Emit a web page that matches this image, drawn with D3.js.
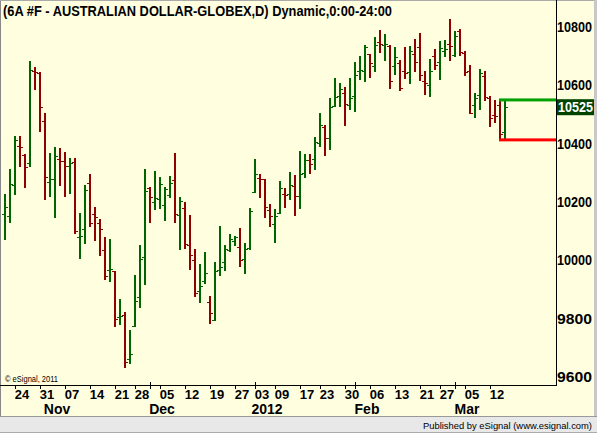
<!DOCTYPE html>
<html>
<head>
<meta charset="utf-8">
<script src="https://cdn.jsdelivr.net/npm/d3@7"></script>
<style>
  html, body { margin: 0; padding: 0; background: #fff; }
  svg { display: block; }
</style>
</head>
<body>
<div id="chart"></div>
<script>
const title = "(6A #F - AUSTRALIAN DOLLAR-GLOBEX,D) Dynamic,0:00-24:00";

// trading days: weekdays from firstDay to lastDay, minus exchange holidays
const firstDay = "2011-10-18";
const lastDay = "2012-03-13";
const holidays = ["2011-11-24", "2011-12-26", "2012-01-02", "2012-01-16", "2012-02-20"];

const opens = [
  10158, 10151, 10257, 10392, 10361, 10333, 10649, 10643, 10478, 10268,
  10278, 10346, 10341, 10324, 10336, 10079, 10106, 10265, 10159, 10128,
  10035, 9967, 9962, 9806, 9813, 9661, 9776, 9873, 10010, 10248,
  10199, 10211, 10190, 10223, 10274, 10154, 10178, 10052, 10001, 9894,
  9928, 9856, 9794, 9967, 9993, 10034, 10066, 10045, 10004, 10043,
  10233, 10281, 10278, 10172, 10124, 10161, 10227, 10227, 10255, 10220,
  10298, 10343, 10346, 10401, 10457, 10418, 10528, 10562, 10574, 10532,
  10562, 10648, 10648, 10706, 10665, 10748, 10738, 10735, 10665, 10676,
  10648, 10645, 10706, 10730, 10614, 10600, 10700, 10679, 10718, 10741,
  10703, 10785, 10710, 10648, 10532, 10566, 10631, 10556, 10497, 10532, 10439
];
const highs = [
  10227, 10313, 10426, 10426, 10365, 10683, 10663, 10646, 10505, 10368,
  10389, 10386, 10372, 10352, 10352, 10163, 10259, 10297, 10183, 10142,
  10080, 10073, 9963, 9867, 9824, 9761, 9950, 10053, 10313, 10251,
  10306, 10286, 10252, 10289, 10368, 10217, 10200, 10155, 10039, 9987,
  10029, 9878, 9994, 10118, 10053, 10090, 10083, 10111, 10059, 10179,
  10347, 10296, 10278, 10193, 10176, 10271, 10248, 10303, 10293, 10375,
  10365, 10365, 10423, 10505, 10464, 10557, 10625, 10608, 10594, 10625,
  10680, 10701, 10738, 10707, 10766, 10790, 10776, 10738, 10731, 10687,
  10731, 10735, 10759, 10779, 10649, 10690, 10725, 10752, 10755, 10827,
  10786, 10793, 10718, 10670, 10574, 10656, 10649, 10563, 10550, 10549, 10550
];
const lows = [
  10070, 10129, 10224, 10321, 10249, 10321, 10584, 10441, 10207, 10218,
  10146, 10256, 10218, 10228, 10091, 10006, 10057, 10115, 10067, 10016,
  9934, 9927, 9772, 9778, 9632, 9644, 9772, 9838, 9915, 10129,
  10173, 10177, 10135, 10215, 10129, 10036, 10040, 9968, 9875, 9855,
  9920, 9781, 9793, 9947, 9964, 10030, 10050, 9978, 9954, 10036,
  10232, 10215, 10146, 10115, 10060, 10158, 10180, 10208, 10153, 10177,
  10283, 10297, 10310, 10389, 10359, 10378, 10525, 10527, 10462, 10516,
  10510, 10619, 10612, 10626, 10647, 10712, 10684, 10588, 10636, 10582,
  10623, 10606, 10647, 10616, 10568, 10561, 10654, 10619, 10698, 10684,
  10698, 10702, 10633, 10503, 10489, 10516, 10547, 10458, 10472, 10417, 10413
];
const closes = [
  10182, 10261, 10413, 10388, 10320, 10653, 10646, 10525, 10285, 10278,
  10358, 10341, 10324, 10335, 10100, 10083, 10240, 10128, 10148, 10106,
  9945, 9969, 9798, 9810, 9650, 9678, 9860, 10004, 10237, 10216,
  10213, 10261, 10244, 10264, 10158, 10202, 10055, 10017, 9887, 9912,
  9956, 9818, 9962, 9976, 10038, 10072, 10080, 10001, 10038, 10169,
  10295, 10278, 10182, 10152, 10151, 10247, 10224, 10258, 10220, 10295,
  10343, 10329, 10405, 10463, 10418, 10525, 10559, 10586, 10535, 10556,
  10634, 10652, 10730, 10676, 10737, 10742, 10741, 10614, 10696, 10590,
  10641, 10717, 10679, 10634, 10607, 10648, 10669, 10727, 10724, 10734,
  10769, 10713, 10645, 10504, 10556, 10641, 10559, 10487, 10494, 10432, 10525
];

const weekLabels = [
  "2011-10-24", "2011-10-31", "2011-11-07", "2011-11-14", "2011-11-21", "2011-11-28",
  "2011-12-05", "2011-12-12", "2011-12-19", "2011-12-27", "2012-01-03", "2012-01-09",
  "2012-01-17", "2012-01-23", "2012-01-30", "2012-02-06", "2012-02-13", "2012-02-21",
  "2012-02-27", "2012-03-05", "2012-03-12"
];
const monthDates = ["2011-11-01", "2011-12-01", "2012-01-03", "2012-02-01", "2012-03-01"];
const monthNames = ["Nov", "Dec", "2012", "Feb", "Mar"];
const priceTicks = [9600, 9800, 10000, 10200, 10400, 10600, 10800];

const W = 597;
const H = 433;
const plotRight = 556;
const plotBottom = 385;
const font = "'Liberation Sans', Arial, sans-serif";
const upColor = "#006400";
const downColor = "#8f0000";

const parse = d3.timeParse("%Y-%m-%d");
const key = d3.timeFormat("%Y-%m-%d");
const days = d3.timeDay
  .range(parse(firstDay), d3.timeDay.offset(parse(lastDay), 1))
  .filter((d) => d.getDay() > 0 && d.getDay() < 6 && !holidays.includes(key(d)))
  .map(key);
const bars = days.map((d, i) => ({ date: d, o: opens[i], h: highs[i], l: lows[i], c: closes[i] }));
const last = bars[bars.length - 1];

const x = d3.scaleBand().domain(days).range([2.5, 2.5 + 5 * days.length]);
const cx = (d) => x(d) + x.bandwidth() / 2;
const y = d3.scaleLinear().domain([9600, 10800]).range([377, 27]);

const svg = d3.select("#chart").append("svg").attr("width", W).attr("height", H);

svg.append("rect").attr("width", W).attr("height", H).attr("fill", "#ffffe0");

// frame
svg.append("rect").attr("x", 594).attr("y", 0).attr("width", 3).attr("height", 417).attr("fill", "#c8c8c8");
svg.append("line").attr("x1", 0.5).attr("x2", 0.5).attr("y1", 0).attr("y2", 417).attr("stroke", "#888");
svg.append("line").attr("x1", 0).attr("x2", 594).attr("y1", 0.5).attr("y2", 0.5).attr("stroke", "#aaa");
svg.append("rect").attr("x", 0).attr("y", 417).attr("width", W).attr("height", 16).attr("fill", "#e8e8e8");
svg.append("line").attr("x1", 0).attr("x2", W).attr("y1", 416.5).attr("y2", 416.5).attr("stroke", "#999");
svg.append("line").attr("x1", 0).attr("x2", W).attr("y1", 432.5).attr("y2", 432.5).attr("stroke", "#aaa");

// title
svg.append("text")
  .attr("x", 3).attr("y", 15.5)
  .attr("font-family", font).attr("font-size", 14).attr("font-weight", "bold")
  .attr("textLength", 389).attr("lengthAdjust", "spacingAndGlyphs")
  .attr("fill", "#000")
  .text(title);

// axes lines
svg.append("line").attr("x1", plotRight + 0.5).attr("x2", plotRight + 0.5).attr("y1", 0).attr("y2", plotBottom + 1)
  .attr("stroke", "#000");
svg.append("line").attr("x1", 0).attr("x2", plotRight + 1).attr("y1", plotBottom + 0.5).attr("y2", plotBottom + 0.5)
  .attr("stroke", "#000");

// right price axis
const yAxis = svg.append("g")
  .attr("transform", `translate(${plotRight},0)`)
  .call(d3.axisRight(y).tickValues(priceTicks).tickSize(0).tickPadding(1).tickFormat(d3.format("d")));
yAxis.select(".domain").remove();
yAxis.selectAll("text")
  .attr("font-family", font).attr("font-size", 14).attr("font-weight", "bold").attr("fill", "#000")
  .attr("textLength", 35).attr("lengthAdjust", "spacingAndGlyphs");

// bottom date axis
const dayFmt = d3.timeFormat("%d");
const gx = svg.append("g");
gx.selectAll("line.wk")
  .data(weekLabels)
  .join("line")
  .attr("class", "wk")
  .attr("x1", (d) => cx(d) - 9.5).attr("x2", (d) => cx(d) - 9.5)
  .attr("y1", plotBottom).attr("y2", plotBottom + 4)
  .attr("stroke", "#000");
gx.selectAll("line.mo")
  .data(monthDates.slice(1))
  .join("line")
  .attr("class", "mo")
  .attr("x1", (d) => cx(d) - 9.5).attr("x2", (d) => cx(d) - 9.5)
  .attr("y1", plotBottom - 3).attr("y2", plotBottom + 4)
  .attr("stroke", "#000");
gx.selectAll("text.wk")
  .data(weekLabels)
  .join("text")
  .attr("class", "wk")
  .attr("x", (d) => cx(d) - 3).attr("y", 399)
  .attr("text-anchor", "middle")
  .attr("font-family", font).attr("font-size", 13).attr("font-weight", "bold")
  .text((d) => dayFmt(parse(d)));
gx.selectAll("text.mo")
  .data(monthDates)
  .join("text")
  .attr("class", "mo")
  .attr("x", (d) => cx(d) + 2).attr("y", 414)
  .attr("text-anchor", "middle")
  .attr("font-family", font).attr("font-size", 14).attr("font-weight", "bold")
  .text((d, i) => monthNames[i]);

// OHLC bars
const gBars = svg.append("g").attr("shape-rendering", "crispEdges");
const col = (d) => (d.c >= d.o ? upColor : downColor);
gBars.selectAll("rect.hl")
  .data(bars)
  .join("rect")
  .attr("class", "hl")
  .attr("x", (d) => cx(d.date) - 1).attr("width", 2)
  .attr("y", (d) => Math.round(y(d.h))).attr("height", (d) => Math.round(y(d.l)) - Math.round(y(d.h)))
  .attr("fill", col);
gBars.selectAll("rect.op")
  .data(bars)
  .join("rect")
  .attr("class", "op")
  .attr("x", (d) => cx(d.date) - 3).attr("width", 2)
  .attr("y", (d) => Math.round(y(d.o))).attr("height", 1)
  .attr("fill", col);
gBars.selectAll("rect.cl")
  .data(bars)
  .join("rect")
  .attr("class", "cl")
  .attr("x", (d) => cx(d.date) + 1).attr("width", 2)
  .attr("y", (d) => Math.round(y(d.c))).attr("height", 1)
  .attr("fill", col);

// current session high / low lines
svg.append("rect")
  .attr("x", cx(last.date) - 6).attr("width", plotRight - cx(last.date) + 6)
  .attr("y", y(last.h) - 1.5).attr("height", 3)
  .attr("fill", "#00a000");
svg.append("rect")
  .attr("x", cx(last.date) - 6).attr("width", plotRight - cx(last.date) + 6)
  .attr("y", y(last.l) - 1.5).attr("height", 3)
  .attr("fill", "#ff0000");

// last price box
svg.append("rect")
  .attr("x", plotRight + 1).attr("y", y(last.c) - 8).attr("width", 37).attr("height", 16)
  .attr("fill", "#004400");
svg.append("text")
  .attr("x", plotRight + 2).attr("y", y(last.c) + 5)
  .attr("font-family", font).attr("font-size", 14).attr("font-weight", "bold").attr("fill", "#fff")
  .attr("textLength", 35).attr("lengthAdjust", "spacingAndGlyphs")
  .text(d3.format("d")(last.c));

// credits
svg.append("text")
  .attr("x", 5).attr("y", 382)
  .attr("font-family", font).attr("font-size", 9).attr("fill", "#000")
  .attr("textLength", 53).attr("lengthAdjust", "spacingAndGlyphs")
  .text("© eSignal, 2011");
svg.append("text")
  .attr("x", 423).attr("y", 428.5)
  .attr("font-family", font).attr("font-size", 9.5).attr("fill", "#000")
  .attr("textLength", 169).attr("lengthAdjust", "spacingAndGlyphs")
  .text("Published by eSignal (www.esignal.com)");
</script>
</body>
</html>
